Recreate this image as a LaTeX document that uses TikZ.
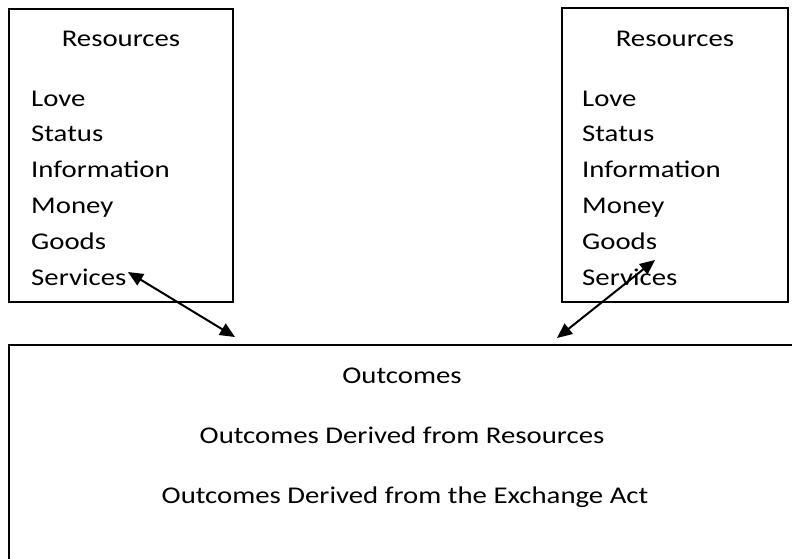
\documentclass[tikz,border=0pt]{standalone}
\usepackage{fontspec}
\setmainfont{Carlito}[FakeStretch=1.2]
\usepackage{tikz}
\usetikzlibrary{arrows.meta}

\begin{document}
\begin{tikzpicture}[
  x=1pt, y=-1pt,
  box/.style     = {rectangle, draw=black, line width=1.3pt, inner sep=0pt},
  head/.style    = {anchor=base, inner sep=0pt, font=\fontsize{24}{28}\selectfont},
  items/.style   = {anchor=north west, inner sep=0pt, align=left,
                    font=\fontsize{24}{35.8}\selectfont},
  dblarr/.style  = {{Triangle[length=15pt,width=13pt]}-{Triangle[length=15pt,width=13pt]},
                    line width=2pt, black}
]
\useasboundingbox (0,0) rectangle (792,559);

% ── Resource boxes ───────────────────────────────────────────────────────────
\node[box, minimum width=224pt, minimum height=293pt] (resleft)  at (121,155.5) {};
\node[box, minimum width=226pt, minimum height=294pt] (resright) at (675,155)   {};

\node[head] (headleft)  at (121,47) {Resources};
\node[head] (headright) at (675,47) {Resources};

\node[items] (listleft)  at (31,90.5)
     {Love\\Status\\Information\\Money\\Goods\\Services};
\node[items] (listright) at (582,90.5)
     {Love\\Status\\Information\\Money\\Goods\\Services};

% ── Outcomes box (runs past the page edge) ───────────────────────────────────
\node[box, minimum width=790pt, minimum height=260pt] (outcomes) at (404,475) {};

\node[head] (outhead) at (402,383) {Outcomes};
\node[head] (outres)  at (402,443) {Outcomes Derived from Resources};
\node[head] (outact)  at (405,503) {Outcomes Derived from the Exchange Act};

% ── Exchange arrows ──────────────────────────────────────────────────────────
\coordinate (lefttip)  at (128,272);
\coordinate (leftfoot) at (235,337);
\coordinate (righttip) at (655,260);
\coordinate (rightfoot) at (557,338);

\draw[dblarr] (lefttip)  -- (leftfoot);
\draw[dblarr] (righttip) -- (rightfoot);
\end{tikzpicture}
\end{document}
